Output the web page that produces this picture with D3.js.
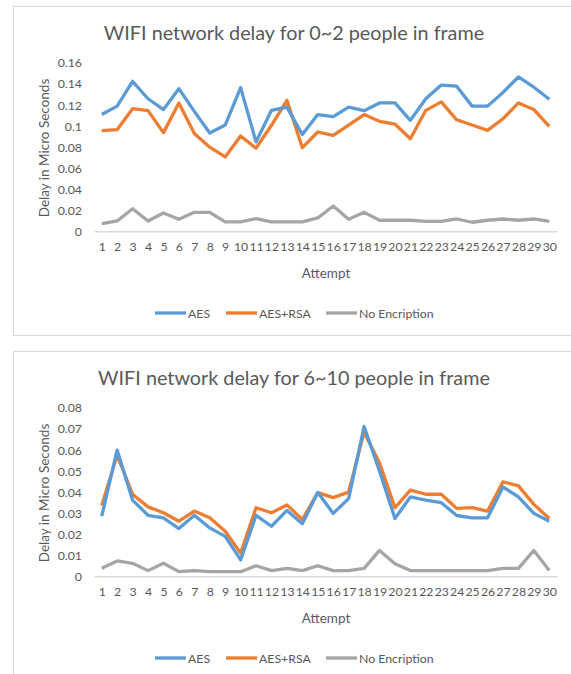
<!DOCTYPE html>
<html>
<head>
<script src="https://d3js.org/d3.v7.min.js"></script>
<style>
  body { margin: 0; background: #fff; }
  text { font-family: Lato, 'Open Sans', sans-serif; fill: #595959; }
  .series { fill: none; stroke-width: 3.3px; stroke-linejoin: round; }
</style>
</head>
<body>
<svg id="chart" width="571" height="674"></svg>
<script>
'use strict';

var attempts = d3.range(1, 31).map(String);
var seriesNames = ["AES", "AES+RSA", "No Encription"];
var colors = ["#5B9BD5", "#ED7D31", "#A5A5A5"];

// chart 1: 0~2 people
var aes1 = [0.111,0.119,0.1426,0.126,0.1157,0.1356,0.114,0.0935,0.101,0.1366,
            0.085,0.115,0.118,0.092,0.111,0.109,0.118,0.1147,0.122,0.122,
            0.1055,0.126,0.139,0.138,0.119,0.119,0.132,0.1467,0.137,0.1255];
var aesRsa1 = [0.0957,0.0966,0.1166,0.1147,0.0938,0.122,0.093,0.080,0.0707,0.0906,
               0.079,0.1008,0.1245,0.0795,0.0944,0.0913,0.101,0.111,0.1046,0.102,
               0.088,0.115,0.123,0.106,0.101,0.096,0.107,0.122,0.1157,0.0998];
var noEnc1 = [0.0073,0.0098,0.0215,0.0098,0.0174,0.0114,0.018,0.018,0.0089,0.0089,
              0.012,0.0089,0.0089,0.0089,0.0127,0.024,0.0114,0.018,0.0105,0.0105,
              0.0105,0.0095,0.0095,0.0117,0.0086,0.0105,0.0117,0.0105,0.0117,0.0095];
var yTicks1 = [0,0.02,0.04,0.06,0.08,0.1,0.12,0.14,0.16];

// chart 2: 6~10 people
var aes2 = [0.0286,0.060,0.0362,0.029,0.0278,0.0227,0.029,0.023,0.019,0.0078,
            0.029,0.0238,0.0313,0.025,0.0398,0.0299,0.0369,0.0712,0.050,0.0275,
            0.0377,0.0362,0.035,0.0289,0.0278,0.0278,0.0425,0.0377,0.0299,0.0262];
var aesRsa2 = [0.0337,0.0576,0.039,0.033,0.0302,0.0262,0.031,0.0278,0.0214,0.011,
               0.0326,0.0302,0.0339,0.027,0.0398,0.0374,0.040,0.0685,0.054,0.0326,
               0.041,0.039,0.039,0.0323,0.0326,0.031,0.0449,0.043,0.0342,0.0275];
var noEnc2 = [0.0038,0.0073,0.0062,0.0027,0.0062,0.0022,0.0027,0.0022,0.0022,0.0022,
              0.005,0.0027,0.0038,0.0027,0.005,0.0027,0.0027,0.0038,0.0123,0.006,
              0.0027,0.0027,0.0027,0.0027,0.0027,0.0027,0.0038,0.0038,0.0123,0.0027];
var yTicks2 = [0,0.01,0.02,0.03,0.04,0.05,0.06,0.07,0.08];

var charts = [
  {title: "WIFI network delay for 0~2 people in frame", top: 6, series: [aes1, aesRsa1, noEnc1], ticks: yTicks1},
  {title: "WIFI network delay for 6~10 people in frame", top: 351, series: [aes2, aesRsa2, noEnc2], ticks: yTicks2}
];

var svg = d3.select("#chart");

function drawChart(c) {
  var g = svg.append("g").attr("transform", "translate(0," + c.top + ")");

  g.append("rect")
    .attr("x", 13.5).attr("y", 0.5)
    .attr("width", 580).attr("height", 329)
    .attr("fill", "#fff").attr("stroke", "#d9d9d9");

  g.append("text")
    .attr("x", 294).attr("y", 34)
    .attr("text-anchor", "middle")
    .style("font-size", "19.8px")
    .text(c.title);

  var x = d3.scalePoint().domain(attempts).range([94, 557]).padding(0.5);
  var y = d3.scaleLinear().domain([0, d3.max(c.ticks)]).range([225.3, 57]);

  var yAxis = g.append("g")
    .attr("transform", "translate(84,0)")
    .call(d3.axisLeft(y).tickValues(c.ticks).tickSize(0).tickPadding(2)
      .tickFormat(function(d) { return String(+d.toFixed(2)); }));
  yAxis.select(".domain").remove();
  yAxis.selectAll("text").style("font-size", "12.3px").attr("fill", "#595959");

  var xAxis = g.append("g")
    .attr("transform", "translate(0," + y(0) + ")")
    .call(d3.axisBottom(x).tickSize(0).tickPadding(11));
  xAxis.select(".domain").attr("stroke", "#d9d9d9").attr("stroke-width", 1.5);
  xAxis.selectAll("text").style("font-size", "12.3px").attr("fill", "#595959");

  g.append("text")
    .attr("x", 326).attr("y", 272)
    .attr("text-anchor", "middle")
    .style("font-size", "13.5px")
    .text("Attempt");

  g.append("text")
    .attr("transform", "translate(44,142) rotate(-90)")
    .attr("text-anchor", "middle")
    .attr("dominant-baseline", "central")
    .style("font-size", "13.5px")
    .text("Delay in Micro Seconds");

  var line = d3.line()
    .x(function(d, i) { return x(attempts[i]); })
    .y(function(d) { return y(d); });

  // draw gray first so the encrypted series sit on top
  [2, 1, 0].forEach(function(k) {
    g.append("path")
      .attr("class", "series")
      .attr("stroke", colors[k])
      .attr("d", line(c.series[k]));
  });

  var legendX = [155, 226, 326];
  var leg = g.append("g").attr("transform", "translate(0,307)");
  seriesNames.forEach(function(name, k) {
    leg.append("line")
      .attr("x1", legendX[k]).attr("x2", legendX[k] + 31)
      .attr("stroke", colors[k]).attr("stroke-width", 3.3);
    leg.append("text")
      .attr("x", legendX[k] + 33).attr("y", 0)
      .attr("dominant-baseline", "central")
      .style("font-size", "12.3px")
      .text(name);
  });
}

charts.forEach(drawChart);
</script>
</body>
</html>
